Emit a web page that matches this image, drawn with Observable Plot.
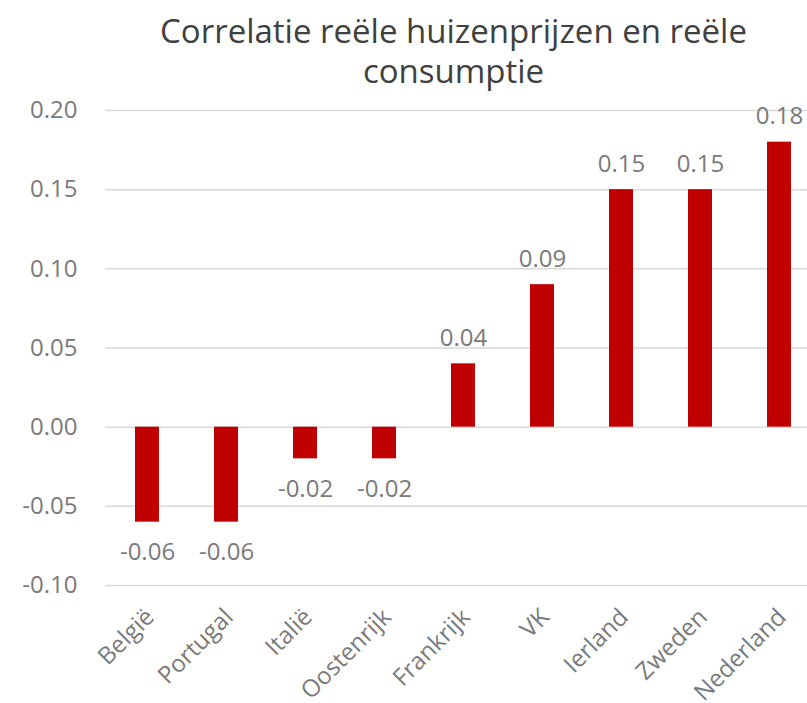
<!DOCTYPE html>
<html>
<head>
<meta charset="utf-8">
<script src="https://cdn.jsdelivr.net/npm/d3@7"></script>
<script src="https://cdn.jsdelivr.net/npm/@observablehq/plot@0.6"></script>
<style>
  html, body { margin: 0; padding: 0; background: #fff; overflow: hidden; }
  #wrap { width: 807px; height: 703px; overflow: hidden; position: relative; }
  #title {
    box-sizing: border-box; width: 807px; height: 80px;
    padding-left: 100px; padding-top: 11px;
    font-family: "Open Sans", sans-serif; font-size: 33px; line-height: 40px;
    color: #404040; text-align: center; white-space: nowrap; overflow: visible;
  }
  #chart svg { display: block; max-width: none !important; height: 623px !important; }
</style>
</head>
<body>
<div id="wrap">
  <div id="title">Correlatie reële huizenprijzen en reële<br>consumptie</div>
  <div id="chart"></div>
</div>
<script>
const countries = ["België", "Portugal", "Italië", "Oostenrijk", "Frankrijk", "VK", "Ierland", "Zweden", "Nederland"];
const values = [-0.06, -0.06, -0.02, -0.02, 0.04, 0.09, 0.15, 0.15, 0.18];
const yTicks = [-0.10, -0.05, 0.00, 0.05, 0.10, 0.15, 0.20];

const data = countries.map((c, i) => ({country: c, value: values[i]}));
const fmt = d => d.toFixed(2);
const gray = "#7a7a7a";
const font = "Open Sans, sans-serif";

const chart = Plot.plot({
  width: 822,
  height: 623,
  marginLeft: 105,
  marginRight: 0,
  marginTop: 30,
  marginBottom: 118,
  style: {fontFamily: font, background: "transparent", maxWidth: "none"},
  x: {domain: countries, paddingInner: 0.69, paddingOuter: 0.345, axis: null},
  y: {domain: [-0.10, 0.20], ticks: yTicks, tickFormat: fmt},
  marks: [
    Plot.gridY(yTicks, {stroke: "#d9d9d9", strokeOpacity: 1, strokeWidth: 1.5}),
    Plot.axisY(yTicks, {tickSize: 0, tickPadding: 28, fontSize: 24, fill: gray, tickFormat: fmt, label: null}),
    Plot.barY(data, {x: "country", y: "value", fill: "#c00000"}),
    Plot.text(data.filter(d => d.value >= 0), {x: "country", y: "value", text: d => fmt(d.value), lineAnchor: "bottom", dy: -18, fontSize: 24, fill: gray}),
    Plot.text(data.filter(d => d.value < 0), {x: "country", y: "value", text: d => fmt(d.value), lineAnchor: "top", dy: 21, fontSize: 24, fill: gray}),
    Plot.text(countries, {x: d => d, frameAnchor: "bottom", text: d => d, rotate: -45, textAnchor: "end", lineAnchor: "top", dx: -4, dy: 21, fontSize: 24, fill: gray})
  ]
});
document.getElementById("chart").appendChild(chart);
</script>
</body>
</html>
